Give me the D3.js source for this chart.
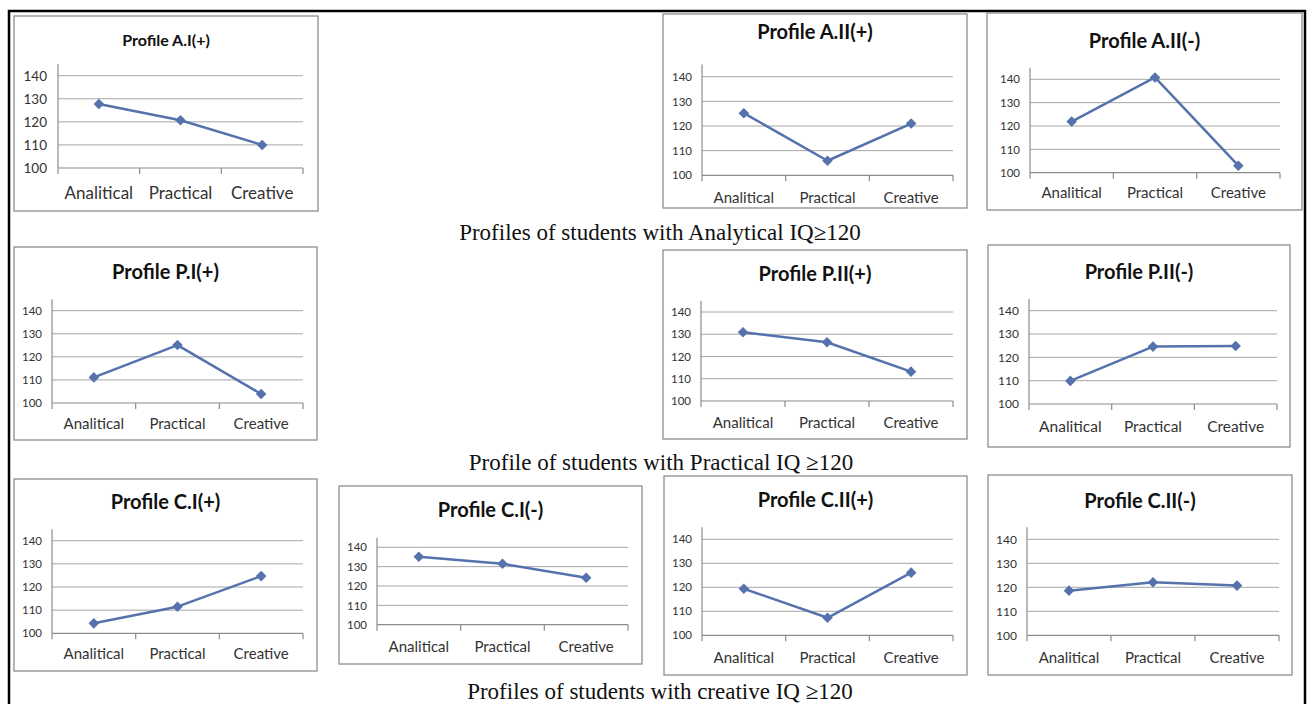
<!DOCTYPE html>
<html><head><meta charset="utf-8">
<script src="https://cdn.jsdelivr.net/npm/d3@7/dist/d3.min.js"></script>
<style>
html,body{margin:0;padding:0;background:#fff;}
svg{display:block;}
</style></head>
<body>
<svg id="c" width="1311" height="704"></svg>
<script>
// ---------- DATA ----------
const categories = ["Analitical", "Practical", "Creative"];
const yTickValues = [100, 110, 120, 130, 140];
const panelTitles = ["Profile A.I(+)", "Profile A.II(+)", "Profile A.II(-)",
  "Profile P.I(+)", "Profile P.II(+)", "Profile P.II(-)",
  "Profile C.I(+)", "Profile C.I(-)", "Profile C.II(+)", "Profile C.II(-)"];
const valsAIplus   = [127.7, 120.7, 110.0];
const valsAIIplus  = [125.2, 105.9, 121.0];
const valsAIIminus = [121.9, 140.8, 103.0];
const valsPIplus   = [111.1, 125.1, 103.9];
const valsPIIplus  = [130.9, 126.4, 113.2];
const valsPIIminus = [109.9, 124.6, 124.9];
const valsCIplus   = [104.3, 111.5, 124.7];
const valsCIminus  = [135.1, 131.5, 124.3];
const valsCIIplus  = [119.4, 107.3, 126.1];
const valsCIIminus = [118.6, 122.1, 120.7];
const panelValues = [valsAIplus, valsAIIplus, valsAIIminus, valsPIplus, valsPIIplus,
  valsPIIminus, valsCIplus, valsCIminus, valsCIIplus, valsCIIminus];
const captions = ["Profiles of students with Analytical IQ\u2265120",
  "Profile of students with Practical IQ \u2265120",
  "Profiles of students with creative IQ \u2265120"];
const yMin = 100, yMax = 145;

// ---------- LAYOUT (positions / sizes only) ----------
// box:[x0,y0,x1,y1], plot:[xl,xr,y100,y140], tY title centre, tS title size,
// lY label centre, lS label size, kS tick size, kP tick padding
const layout = [
  {box:[14,16,318,211],  plot:[58,303,168,75.7],   tY:40,  tS:16, lY:193,   lS:17, kS:13.5, kP:11},
  {box:[663,14,967,208], plot:[702,953,175.3,76.7],tY:32,  tS:20, lY:198,   lS:15, kS:11.5, kP:10},
  {box:[987,13,1302,210],plot:[1030,1280,172.7,79.3],tY:41,tS:20, lY:193,   lS:15, kS:11.5, kP:10},
  {box:[14,247,317,440], plot:[52,303,403,310.7],  tY:272, tS:20, lY:424,   lS:15, kS:11.5, kP:10},
  {box:[663,250,967,439],plot:[701,953,401,312],   tY:274, tS:20, lY:422.7, lS:15, kS:11.5, kP:10},
  {box:[988,245,1290,447],plot:[1029,1277,404,310.7],tY:272,tS:20,lY:426.7, lS:15.5, kS:12, kP:10},
  {box:[14,479,317,671], plot:[52,303,633.3,540.7],tY:502, tS:20, lY:654,   lS:15, kS:11.5, kP:10},
  {box:[339,486,642,664],plot:[377,628,624.7,547.3],tY:510,tS:20, lY:647,   lS:15, kS:11.5, kP:10},
  {box:[664,476,967,675],plot:[702,953,635.3,539.3],tY:500,tS:20, lY:657.7, lS:15, kS:11.5, kP:10},
  {box:[988,475,1292,675],plot:[1027,1279,635.3,539.3],tY:500.7,tS:20,lY:657.7,lS:15, kS:12, kP:10}
];
const captionPos = [[660,240],[661,470],[660,699]];

const FONT = "Lato, 'Open Sans', sans-serif";
const LINE = "#5572ad";
const svg = d3.select("#c");

// outer frame
svg.append("path")
  .attr("d", "M9,710 V11 H1305 V710")
  .attr("fill","none").attr("stroke","#000").attr("stroke-width",2.5);

layout.forEach((L, i) => {
  const vals = panelValues[i];
  const [bx0,by0,bx1,by1] = L.box;
  const [xl,xr,y100,y140] = L.plot;
  const g = svg.append("g");
  g.append("rect").attr("x",bx0).attr("y",by0).attr("width",bx1-bx0).attr("height",by1-by0)
    .attr("fill","#fff").attr("stroke","#8e8e8e").attr("stroke-width",1.3);

  const y = d3.scaleLinear().domain([100,140]).range([y100,y140]);
  const x = d3.scaleBand().domain(categories).range([xl,xr]);

  // gridlines
  g.selectAll(".grid").data(yTickValues.filter(v=>v>yMin)).enter().append("line")
    .attr("x1",xl).attr("x2",xr).attr("y1",d=>y(d)).attr("y2",d=>y(d))
    .attr("stroke","#a6a6a6").attr("stroke-width",1);

  // y axis (line + labels)
  const ya = d3.axisLeft(y).tickValues(yTickValues).tickSize(0).tickPadding(L.kP);
  const yg = g.append("g").attr("transform",`translate(${xl},0)`).call(ya);
  yg.select(".domain").remove();
  yg.selectAll("text").attr("font-family",FONT).attr("font-size",L.kS).attr("fill","#333");
  g.append("line").attr("x1",xl).attr("x2",xl).attr("y1",y(yMin)).attr("y2",y(yMax))
    .attr("stroke","#8c8c8c").attr("stroke-width",1.2);

  // x axis line + boundary ticks
  g.append("line").attr("x1",xl).attr("x2",xr).attr("y1",y(yMin)).attr("y2",y(yMin))
    .attr("stroke","#8c8c8c").attr("stroke-width",1.2);
  const bounds = categories.map(c => x(c)).concat([xr]);
  g.selectAll(".xt").data(bounds).enter().append("line")
    .attr("x1",d=>d).attr("x2",d=>d).attr("y1",y(yMin)).attr("y2",y(yMin)+6)
    .attr("stroke","#8c8c8c").attr("stroke-width",1.2);

  // category labels
  g.selectAll(".xl").data(categories).enter().append("text")
    .attr("x",d=>x(d)+x.bandwidth()/2).attr("y",L.lY).attr("dy","0.35em")
    .attr("text-anchor","middle").attr("font-family",FONT).attr("font-size",L.lS)
    .attr("fill","#333").text(d=>d);

  // title
  g.append("text").attr("x",(bx0+bx1)/2).attr("y",L.tY).attr("dy","0.35em")
    .attr("text-anchor","middle").attr("font-family",FONT).attr("font-weight","bold")
    .attr("font-size",L.tS).attr("fill","#111").text(panelTitles[i]);

  // line
  const line = d3.line().x((d,j)=>x(categories[j])+x.bandwidth()/2).y(d=>y(d));
  g.append("path").datum(vals).attr("d",line).attr("fill","none")
    .attr("stroke",LINE).attr("stroke-width",2.5).attr("stroke-linejoin","round");
  const sym = d3.symbol().type(d3.symbolSquare).size(56);
  g.selectAll(".mk").data(vals).enter().append("path")
    .attr("d",sym)
    .attr("transform",(d,j)=>`translate(${x(categories[j])+x.bandwidth()/2},${y(d)}) rotate(45)`)
    .attr("fill",LINE);
});

// captions
captions.forEach((t,i)=>{
  svg.append("text").attr("x",captionPos[i][0]).attr("y",captionPos[i][1])
    .attr("text-anchor","middle").attr("font-family","'Liberation Serif', 'DejaVu Serif', serif")
    .attr("font-size",23).attr("fill","#111").text(t);
});
</script>
</body></html>
